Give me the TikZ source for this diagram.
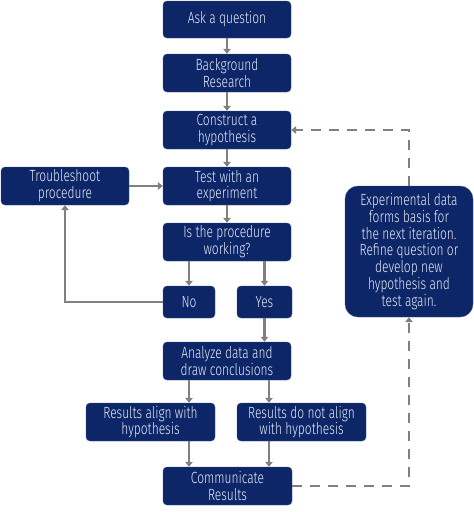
\documentclass[tikz,border=0pt]{standalone}
\usepackage{fontspec}
\setmainfont{Fira Sans Light}[FakeStretch=0.74]
\usetikzlibrary{arrows.meta}
\definecolor{navy}{RGB}{12,38,104}
\definecolor{txt}{RGB}{232,236,246}
\definecolor{conn}{RGB}{128,128,128}
\begin{document}
\begin{tikzpicture}[x=1pt,y=-1pt,
  box/.style={fill=navy,draw=navy!80!white,line width=0.4pt,rounded corners=4pt,text=txt,align=center,inner sep=0pt,font=\fontsize{16.2}{16.8}\selectfont},
  bigbox/.style={box,rounded corners=13pt},
  conn/.style={draw=conn,line width=2.6pt,-{Triangle[length=5pt,width=7.5pt]}},
  dconn/.style={conn,dash pattern=on 10pt off 8pt}]
\useasboundingbox (0,0) rectangle (474,512);
\newcommand{\bx}[7][box]{\node[#1,minimum width=#4-#3,minimum height=#6-#5] (#2) at ({(#3+#4)/2},{(#5+#6)/2}) {#7};}
\bx{ask}{163}{291}{1}{38}{Ask a question}
\bx{bg}{163}{291}{54}{92}{Background\\Research}
\bx{con}{163}{291}{111}{149}{Construct a\\hypothesis}
\bx{ts}{1}{129}{167}{205}{Troubleshoot\\procedure}
\bx{test}{163}{291}{167}{205}{Test with an\\experiment}
\bx{is}{163}{291}{223}{261}{Is the procedure\\working?}
\bx{no}{163}{215}{286}{318}{No}
\bx{yes}{237}{292}{286}{318}{Yes}
\bx[bigbox]{exp}{345}{473}{186}{317}{Experimental data\\forms basis for\\the next iteration.\\Refine question or\\develop new\\hypothesis and\\test again.}
\bx{an}{163}{291}{342}{380}{Analyze data and\\draw conclusions}
\bx{ra}{86}{215}{403}{441}{Results align with\\hypothesis}
\bx{rn}{237}{366}{403}{441}{Results do not align\\with hypothesis}
\bx{com}{163}{292}{467}{505}{Communicate\\Results}
\draw[conn] (ask) -- (bg);
\draw[conn] (bg) -- (con);
\draw[conn] (con) -- (test);
\draw[conn] (ts.east) -- (test.west);
\draw[conn] (test) -- (is);
\draw[conn] (is.south -| no) -- (no);
\draw[conn] (is.south -| yes) -- (yes);
\draw[conn,rounded corners=0pt] (no.west) -- (no.west -| ts.south) -- (ts.south);
\coordinate (yb) at (yes.south);
\draw[conn] (yb) -- (yb |- an.north);
\coordinate (lx) at (189,0);
\coordinate (rx) at (269,0);
\draw[conn] (lx |- an.south) -- (lx |- ra.north);
\draw[conn] (rx |- an.south) -- (rx |- rn.north);
\draw[conn] (lx |- ra.south) -- (lx |- com.north);
\draw[conn] (rx |- rn.south) -- (rx |- com.north);
\coordinate (dx) at (409,0);
\draw[dconn] (com.east) -- (com.east -| dx) -- (exp.south);
\coordinate (dy) at (0,130);
\draw[dconn] (exp.north) -- (exp.north |- dy) -- (con.east);
\end{tikzpicture}
\end{document}
